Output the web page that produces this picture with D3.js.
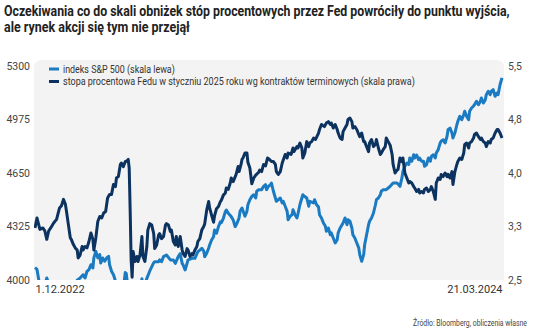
<!DOCTYPE html>
<html>
<head>
<meta charset="utf-8">
<script src="https://cdn.jsdelivr.net/npm/d3@7"></script>
<style>
  body { margin: 0; background: #fff; }
  svg { display: block; }
</style>
</head>
<body>
<svg id="chart" width="536" height="331"></svg>
<script>
// Pierwszy dzień wykresu; dni liczone od tej daty
const startDate = new Date(2022, 11, 1);
const endDate = new Date(2024, 2, 21);

// S&P 500: [dzień od 1.12.2022, wartość indeksu]
const spx = [[0,4076],[2,4065],[4,3995],[5,3940],[7,3960],[8,3935],[11,3990],[12,4012],[13,3995],[15,3870],[18,3820],[21,3830],[27,3785],[29,3845],[35,3810],[36,3895],[40,3920],[42,3980],[43,3999],[46,4012],[49,4032],[51,4012],[53,4053],[55,4063],[57,4093],[59,4073],[60,4134],[62,4174],[64,4134],[66,4154],[67,4103],[69,4134],[71,4114],[73,4134],[75,4144],[76,4093],[78,4053],[80,4032],[82,3994],[83,3990],[85,3970],[88,3982],[90,3980],[91,3995],[92,4045],[93,4040],[94,3990],[96,3986],[98,3919],[99,3862],[102,3856],[103,3920],[104,3892],[105,3960],[106,3917],[108,3960],[109,4008],[110,3940],[111,3950],[114,4010],[117,4055],[121,4105],[122,4111],[124,4111],[126,4111],[127,4122],[129,4111],[131,4142],[134,4152],[138,4122],[141,4122],[143,4101],[146,4142],[148,4160],[150,4101],[151,4091],[153,4061],[155,4101],[156,4122],[160,4132],[163,4132],[166,4172],[168,4182],[170,4193],[172,4176],[173,4142],[175,4162],[177,4193],[178,4213],[180,4243],[182,4263],[183,4304],[185,4284],[187,4324],[189,4354],[190,4349],[192,4375],[194,4415],[195,4425],[197,4405],[200,4385],[202,4365],[204,4324],[206,4346],[208,4377],[209,4417],[211,4437],[214,4387],[216,4417],[217,4457],[219,4488],[221,4508],[223,4518],[225,4498],[226,4539],[228,4549],[231,4549],[233,4569],[235,4579],[236,4549],[238,4569],[240,4579],[241,4589],[243,4539],[245,4498],[246,4478],[250,4498],[252,4468],[253,4478],[255,4448],[257,4417],[258,4366],[260,4387],[262,4397],[263,4427],[265,4397],[267,4377],[268,4401],[270,4457],[272,4498],[273,4518],[275,4507],[277,4498],[279,4448],[280,4478],[284,4468],[285,4488],[287,4457],[289,4443],[290,4397],[292,4377],[294,4346],[296,4326],[297,4296],[299,4316],[301,4275],[302,4286],[304,4255],[306,4225],[308,4245],[309,4286],[311,4316],[313,4336],[314,4346],[316,4377],[318,4336],[319,4366],[321,4357],[323,4316],[324,4275],[326,4255],[328,4225],[330,4194],[331,4154],[333,4114],[335,4154],[336,4214],[338,4275],[340,4336],[341,4357],[343,4377],[345,4407],[347,4457],[348,4488],[350,4498],[352,4518],[353,4539],[355,4549],[358,4549],[360,4559],[362,4569],[365,4589],[369,4589],[370,4583],[372,4569],[374,4620],[375,4660],[377,4691],[379,4711],[381,4702],[382,4741],[384,4721],[386,4761],[387,4741],[389,4759],[391,4731],[392,4741],[394,4721],[396,4721],[397,4691],[399,4700],[401,4741],[403,4721],[404,4751],[406,4761],[408,4741],[409,4772],[411,4792],[413,4832],[414,4843],[416,4852],[418,4832],[420,4873],[421,4913],[423,4923],[425,4893],[426,4863],[428,4893],[430,4943],[431,4964],[433,4994],[435,4974],[437,5004],[438,5025],[440,4994],[442,4974],[443,5025],[445,5045],[447,5057],[448,5065],[450,5086],[452,5065],[454,5086],[455,5106],[457,5075],[459,5095],[460,5126],[462,5146],[464,5126],[465,5146],[467,5156],[469,5116],[471,5136],[472,5126],[474,5186],[476,5228]];

// Oczekiwana stopa Fed na styczeń 2025: [dzień od 1.12.2022, %]
const fed = [[0,3.23],[2,3.37],[5,3.21],[8,3.23],[10,3.19],[12,3.07],[14,3.19],[16,3.23],[19,3.30],[22,3.35],[25,3.51],[27,3.54],[29,3.63],[31,3.56],[32,3.47],[34,3.28],[36,3.09],[37,3.07],[39,3.00],[41,2.95],[43,2.92],[44,2.81],[46,2.85],[48,2.97],[49,2.92],[51,2.97],[53,2.95],[55,3.04],[57,3.16],[59,3.07],[60,2.92],[62,3.09],[64,3.32],[66,3.39],[68,3.37],[70,3.44],[72,3.46],[74,3.65],[76,3.70],[78,3.70],[80,3.84],[82,3.81],[83,3.93],[85,3.95],[87,4.12],[88,4.14],[90,4.09],[92,4.16],[93,4.16],[95,4.19],[96,4.07],[97,3.48],[98,2.78],[99,2.54],[100,2.90],[102,2.76],[104,2.83],[105,2.76],[107,2.85],[109,3.11],[110,2.83],[112,2.76],[114,2.97],[115,3.20],[117,3.29],[119,3.27],[121,3.15],[122,2.94],[124,2.99],[126,3.13],[127,3.15],[129,3.08],[131,3.11],[133,3.27],[134,3.29],[136,3.27],[138,3.18],[139,3.20],[141,3.04],[143,2.99],[144,3.11],[146,2.97],[148,3.11],[150,2.92],[151,2.87],[153,2.83],[155,2.94],[156,2.92],[158,2.83],[160,2.87],[161,2.85],[163,2.92],[165,2.97],[166,3.04],[168,3.08],[170,3.20],[172,3.25],[173,3.29],[175,3.48],[177,3.60],[178,3.51],[180,3.41],[182,3.31],[183,3.40],[185,3.50],[187,3.53],[189,3.60],[190,3.62],[192,3.69],[194,3.72],[195,3.79],[197,3.77],[199,3.86],[200,3.93],[202,3.88],[205,3.98],[207,4.09],[208,4.02],[210,4.12],[211,4.19],[212,4.21],[214,4.28],[216,4.28],[217,4.15],[219,4.07],[221,3.85],[223,3.93],[225,3.97],[228,4.01],[229,4.04],[231,4.02],[233,4.12],[235,4.10],[237,4.21],[239,4.19],[241,4.16],[243,4.16],[245,4.12],[246,4.02],[248,3.98],[250,4.02],[252,4.14],[255,4.26],[257,4.21],[258,4.28],[261,4.26],[263,4.35],[264,4.30],[267,4.37],[268,4.35],[270,4.42],[272,4.35],[273,4.21],[275,4.28],[277,4.44],[279,4.37],[280,4.42],[282,4.44],[284,4.49],[286,4.47],[289,4.56],[290,4.61],[292,4.68],[295,4.65],[297,4.70],[299,4.72],[301,4.68],[302,4.70],[304,4.63],[306,4.68],[308,4.61],[309,4.56],[311,4.49],[313,4.47],[314,4.58],[316,4.63],[318,4.68],[319,4.75],[321,4.77],[323,4.72],[324,4.63],[326,4.65],[328,4.61],[330,4.54],[331,4.51],[333,4.56],[335,4.44],[336,4.44],[338,4.37],[340,4.30],[341,4.42],[343,4.47],[345,4.37],[347,4.40],[348,4.47],[350,4.35],[352,4.26],[353,4.28],[355,4.33],[357,4.37],[358,4.49],[360,4.44],[362,4.39],[364,4.26],[365,4.12],[367,4.00],[369,4.04],[370,4.05],[372,4.21],[374,4.16],[375,4.21],[377,4.00],[379,3.93],[381,3.86],[382,3.88],[384,3.86],[386,3.81],[387,3.79],[389,3.74],[391,3.77],[392,3.72],[394,3.74],[396,3.72],[397,3.77],[399,3.79],[401,3.74],[403,3.77],[404,3.81],[406,3.74],[408,3.63],[409,3.86],[411,3.93],[413,3.91],[414,3.98],[416,3.95],[418,4.00],[420,3.95],[421,3.98],[423,3.93],[425,4.02],[426,3.84],[428,4.02],[430,4.12],[431,4.16],[433,4.21],[435,4.19],[437,4.28],[438,4.40],[440,4.42],[442,4.35],[443,4.42],[445,4.44],[447,4.49],[448,4.54],[450,4.56],[452,4.51],[454,4.47],[455,4.49],[457,4.44],[459,4.42],[460,4.37],[462,4.44],[464,4.42],[465,4.47],[467,4.49],[469,4.56],[471,4.61],[472,4.61],[474,4.56],[476,4.49]];

const leftTicks = [4000, 4325, 4650, 4975, 5300];
const rightTicks = [2.5, 3.25, 4.0, 4.75, 5.5];
const rightTickLabels = ["2,5", "3,3", "4,0", "4,8", "5,5"];

const titleLines = [
  "Oczekiwania co do skali obniżek stóp procentowych przez Fed powróciły do punktu wyjścia,",
  "ale rynek akcji się tym nie przejął"
];
const seriesNames = [
  "indeks S&P 500 (skala lewa)",
  "stopa procentowa Fedu w styczniu 2025 roku wg kontraktów terminowych (skala prawa)"
];
const sourceText = "Źródło: Bloomberg, obliczenia własne";

const colSpx = "#1a7ac2";
const colFed = "#0c3360";
const font = "Roboto, 'Open Sans', sans-serif";

const svg = d3.select("#chart");

// Narrow a text horizontally so that it spans the given width,
// anchored at (x, y) on its left ("start") or right ("end") side.
function fitText(sel, x, y, width, anchor) {
  sel.attr("x", 0).attr("y", 0).attr("text-anchor", anchor);
  const natural = sel.node().getComputedTextLength();
  const k = Math.min(1, width / natural);
  sel.attr("transform", `translate(${x},${y}) scale(${k},1)`);
}

// plot frame
const P = { left: 34, right: 504, top: 60, bottom: 280 };
const r = 8;

const x = d3.scaleTime().domain([startDate, endDate]).range([35, 502]);
const yL = d3.scaleLinear().domain([4000, 5300]).range([280, 66]);
const yR = d3.scaleLinear().domain([2.5, 5.5]).range([280, 66]);
const dayToDate = d => d3.timeDay.offset(startDate, d);

// title
const titleWidths = [506, 186];
svg.append("g").selectAll("text").data(titleLines).join("text")
  .attr("font-family", font)
  .attr("font-size", 14.5)
  .attr("font-weight", 700)
  .attr("fill", "#222")
  .text(d => d)
  .each(function (d, i) {
    fitText(d3.select(this), 4, 15.5 + i * 16.5, titleWidths[i], "start");
  });

// panel background with rounded top corners
svg.append("path")
  .attr("d", `M${P.left},${P.bottom} V${P.top + r} Q${P.left},${P.top} ${P.left + r},${P.top}
              H${P.right - r} Q${P.right},${P.top} ${P.right},${P.top + r} V${P.bottom} Z`)
  .attr("fill", "#f3f3f3");

svg.append("defs").append("clipPath").attr("id", "plotClip")
  .append("rect")
  .attr("x", P.left).attr("y", P.top - 10)
  .attr("width", P.right - P.left).attr("height", P.bottom - P.top + 10);

// axes
const axisStyle = g => {
  g.select(".domain").remove();
  g.selectAll("text")
    .attr("font-family", font)
    .attr("font-size", 10.5)
    .attr("fill", "#444");
};

svg.append("g")
  .attr("transform", "translate(30,0)")
  .call(d3.axisLeft(yL).tickValues(leftTicks).tickSize(0).tickPadding(0).tickFormat(d3.format("d")))
  .call(axisStyle);

svg.append("g")
  .attr("transform", "translate(508,0)")
  .call(d3.axisRight(yR).tickValues(rightTicks).tickSize(0).tickPadding(0)
    .tickFormat((d, i) => rightTickLabels[i]))
  .call(axisStyle);

const xAxis = svg.append("g")
  .attr("transform", "translate(0,285)")
  .call(d3.axisBottom(x).tickValues([startDate, endDate]).tickSize(0).tickPadding(0)
    .tickFormat(d3.timeFormat("%-d.%m.%Y")))
  .call(axisStyle);
xAxis.selectAll("text")
  .attr("font-size", 11)
  .attr("fill", "#333")
  .attr("text-anchor", (d, i) => i === 0 ? "start" : "end");

// lines
const plot = svg.append("g").attr("clip-path", "url(#plotClip)");

const lineL = d3.line().x(d => x(dayToDate(d[0]))).y(d => yL(d[1]));
const lineR = d3.line().x(d => x(dayToDate(d[0]))).y(d => yR(d[1]));

plot.append("path").datum(spx)
  .attr("d", lineL)
  .attr("fill", "none").attr("stroke", colSpx)
  .attr("stroke-width", 3).attr("stroke-linejoin", "round");

plot.append("path").datum(fed)
  .attr("d", lineR)
  .attr("fill", "none").attr("stroke", colFed)
  .attr("stroke-width", 3).attr("stroke-linejoin", "round");

// legend
const legend = svg.append("g");
const legendRows = [
  { name: seriesNames[0], color: colSpx, y: 69, len: 112 },
  { name: seriesNames[1], color: colFed, y: 81.5, len: 352 }
];
legendRows.forEach(row => {
  legend.append("line")
    .attr("x1", 49).attr("x2", 59).attr("y1", row.y).attr("y2", row.y)
    .attr("stroke", row.color).attr("stroke-width", 3);
  legend.append("text")
    .attr("font-family", font).attr("font-size", 11)
    .attr("fill", "#333")
    .text(row.name)
    .call(t => fitText(t, 63, row.y + 3.5, row.len, "start"));
});

// source note
svg.append("text")
  .attr("font-family", font).attr("font-size", 9)
  .attr("fill", "#444")
  .text(sourceText)
  .call(t => fitText(t, 527, 326, 114, "end"));
</script>
</body>
</html>
